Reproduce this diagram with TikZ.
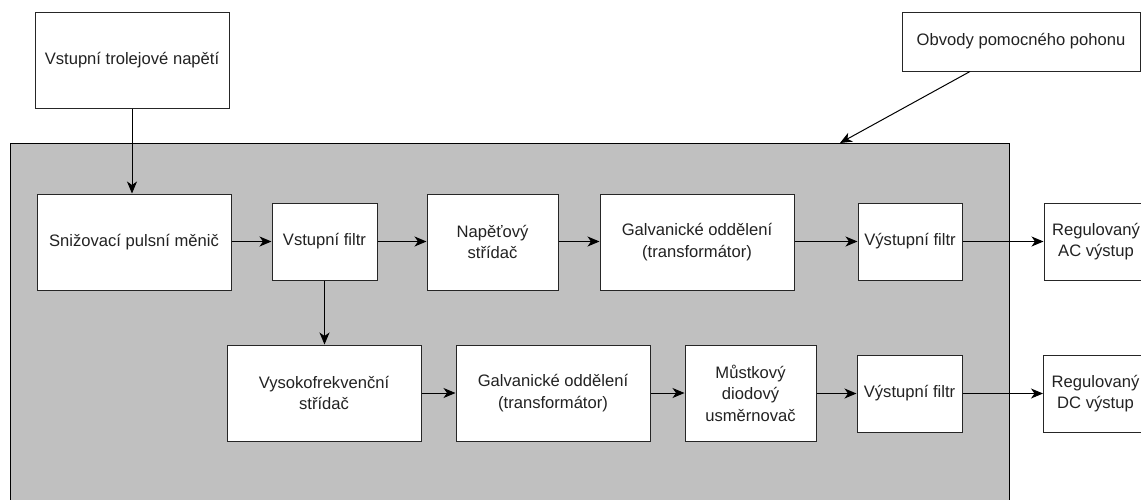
\documentclass[tikz,border=0pt]{standalone}
\usepackage{fontspec}
\setmainfont{Liberation Sans}
\usetikzlibrary{arrows.meta,calc}
\definecolor{panelgray}{HTML}{C0C0C0}
\definecolor{inktext}{HTML}{222222}
\begin{document}
\begin{tikzpicture}[x=1pt,y=-1pt,
  blk/.style={draw=black!85, line width=1pt, fill=white, inner sep=0pt, align=center,
    text=inktext, font=\fontsize{16.6}{21.5}\selectfont},
  big/.style={blk, minimum width=194pt, minimum height=96pt},
  mid/.style={blk, minimum width=131pt, minimum height=96pt},
  small/.style={blk, minimum width=104pt, minimum height=77pt},
  conn/.style={draw=black, line width=1pt, -{Stealth[length=12pt,width=10pt,inset=3.5pt]}}
]
\useasboundingbox (0,0) rectangle (1141,499);
\clip (0,0) rectangle (1141,499);
\fill[white] (0,0) rectangle (1141,499);
% system panel
\node[draw=black, line width=1pt, fill=panelgray, minimum width=999pt, minimum height=380pt,
  anchor=north west, inner sep=0pt] (sys) at (10,143) {};
% outside blocks
\node[big] (top) at (132,60) {Vstupní trolejové napětí};
\node[blk, minimum width=238pt, minimum height=59pt] (obv) at (1021,41.5) {Obvody pomocného pohonu};
% upper chain
\node[big] (sniz) at (134,242) {Snižovací pulsní měnič};
\node[small, minimum width=105pt] (vf) at (324.5,241.5) {Vstupní filtr};
\node[mid] (nap) at (492.5,242) {Napěťový\\střídač};
\node[big] (galva) at (697,242) {Galvanické oddělení\\(transformátor)};
\node[small] (vyfa) at (910,241.5) {Výstupní filtr};
\node[small] (ac) at (1096,241.5) {Regulovaný\\AC výstup};
% lower chain
\node[big] (vys) at (324,393) {Vysokofrekvenční\\střídač};
\node[big] (galvb) at (553,393) {Galvanické oddělení\\(transformátor)};
\node[mid] (most) at (750.5,393) {Můstkový\\diodový\\usměrnovač};
\node[small, minimum width=105pt] (vyfb) at (909.5,393.5) {Výstupní filtr};
\node[small] (dc) at (1095.5,393.5) {Regulovaný\\DC výstup};
% connectors
\draw[conn] (top.south) -- (top.south |- sniz.north);
\coordinate (obvstart) at ([xshift=-51pt]obv.south);
\coordinate (panelhit) at (840,143);
\draw[conn] (obvstart) -- (panelhit);
\draw[conn] (sniz.east |- vf.west) -- (vf.west);
\draw[conn] (vf.east) -- (nap.west |- vf.east);
\draw[conn] (nap.east |- vf.east) -- (galva.west |- vf.east);
\draw[conn] (galva.east |- vyfa.west) -- (vyfa.west);
\draw[conn] (vyfa.east) -- (ac.west);
\draw[conn] (vf.south) -- (vf.south |- vys.north);
\draw[conn] (vys.east) -- (galvb.west);
\draw[conn] (galvb.east) -- (most.west);
\draw[conn] (most.east |- vyfb.west) -- (vyfb.west);
\draw[conn] (vyfb.east) -- (dc.west);
\end{tikzpicture}
\end{document}
